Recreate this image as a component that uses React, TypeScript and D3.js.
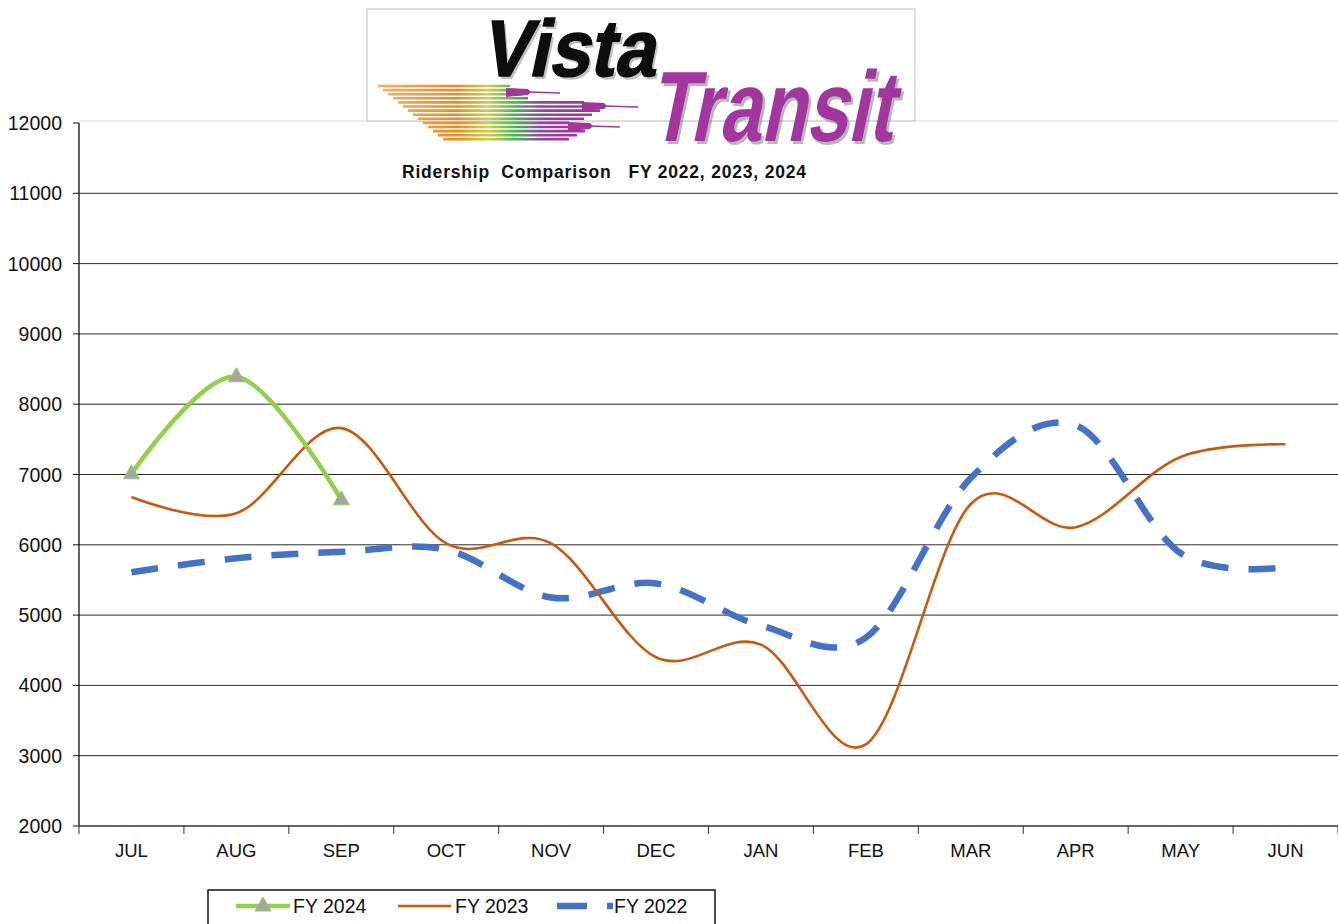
import React from 'react';
import * as d3 from 'd3';

const months = ['JUL', 'AUG', 'SEP', 'OCT', 'NOV', 'DEC', 'JAN', 'FEB', 'MAR', 'APR', 'MAY', 'JUN'];
const fy2024 = [7010, 8390, 6640];
const fy2023 = [6680, 6450, 7660, 6020, 6020, 4400, 4580, 3160, 6580, 6250, 7250, 7430];
const fy2022 = [5610, 5810, 5900, 5930, 5250, 5450, 4850, 4680, 6950, 7700, 5880, 5680];
const yTicks = [2000, 3000, 4000, 5000, 6000, 7000, 8000, 9000, 10000, 11000, 12000];

const W = 1338;
const H = 924;
const left = 79, right = 1338, top = 123, bottom = 826;
const font = 'Arial, "Liberation Sans", sans-serif';

const App: React.FC = () => {
  const x = d3.scaleBand<string>().domain(months).range([left, right]).paddingInner(0).paddingOuter(0);
  const cx = (i: number) => (x(months[i]) || 0) + x.bandwidth() / 2;
  const y = d3.scaleLinear().domain([2000, 12000]).range([bottom, top]);

  const line = d3.line<number>()
    .x((d, i) => cx(i))
    .y(d => y(d))
    .curve(d3.curveCardinal.tension(0));

  // speed stripes of the logo
  const stripes = d3.range(14).map(i => {
    const sy = 86 + i * 4.1;
    const x0 = 378 + i * 5;
    const x1 = i < 4 ? 528 - (3 - i) * 6 : i < 9 ? 600 - Math.abs(i - 6) * 8 : 585 - Math.abs(i - 11) * 8;
    return { sy, x0, x1 };
  });

  const tri = (px: number, py: number) => `M${px},${py - 9}L${px + 8},${py + 5}L${px - 8},${py + 5}Z`;

  return (
    <div style={{ position: 'absolute', left: 0, top: 0 }}>
      <svg width={W} height={H} style={{ display: 'block', fontFamily: font }}>
        <rect width={W} height={H} fill="#fff" />
        {/* plot top border */}
        <line x1={left} x2={right} y1={121} y2={121} stroke="#d9d9d9" strokeWidth={1.2} />
        {/* grid */}
        {yTicks.slice(1, -1).map(t => (
          <line key={t} x1={left} x2={right} y1={y(t)} y2={y(t)} stroke="#2b2b2b" strokeWidth={1} />
        ))}
        {/* axes */}
        <line x1={left} x2={right} y1={bottom} y2={bottom} stroke="#333" strokeWidth={1.3} />
        <line x1={left} x2={left} y1={top} y2={bottom} stroke="#111" strokeWidth={1.3} />
        {yTicks.map(t => (
          <g key={t}>
            <line x1={left - 6} x2={left} y1={y(t)} y2={y(t)} stroke="#111" strokeWidth={1} />
            <text x={62} y={y(t) + 7} textAnchor="end" fontSize={19.5} fill="#111">{t}</text>
          </g>
        ))}
        {months.map((m, i) => (
          <g key={m}>
            <line x1={(x(m) || 0) + x.bandwidth()} x2={(x(m) || 0) + x.bandwidth()} y1={bottom} y2={bottom + 8} stroke="#333" strokeWidth={1} />
            <text x={cx(i)} y={857} textAnchor="middle" fontSize={18.5} fill="#111">{m}</text>
          </g>
        ))}
        <line x1={left} x2={left} y1={bottom} y2={bottom + 8} stroke="#333" strokeWidth={1} />

        {/* series */}
        <path d={line(fy2022) || ''} fill="none" stroke="#4472C4" strokeWidth={6.5} strokeDasharray="27,20" />
        <path d={line(fy2023) || ''} fill="none" stroke="#C55A11" strokeWidth={2.6} />
        <path d={line(fy2024) || ''} fill="none" stroke="#92D050" strokeWidth={4.6} />
        {fy2024.map((v, i) => (
          <path key={i} d={tri(cx(i), y(v))} fill="#A5A5A5" stroke="#92D050" strokeWidth={1} />
        ))}

        {/* logo */}
        <defs>
          <linearGradient id="stripe" gradientUnits="userSpaceOnUse" x1={378} x2={640} y1={0} y2={0}>
            <stop offset="0" stopColor="#f7b366" />
            <stop offset="0.3" stopColor="#f0891e" />
            <stop offset="0.42" stopColor="#c9d24a" />
            <stop offset="0.52" stopColor="#4cb848" />
            <stop offset="0.62" stopColor="#8a4aa3" />
            <stop offset="0.7" stopColor="#a2379b" />
            <stop offset="1" stopColor="#a2379b" />
          </linearGradient>
        </defs>
        <rect x={367} y={9} width={548} height={112} fill="#fff" stroke="#c8c8c8" strokeWidth={1.2} />
        {stripes.map((s, i) => (
          <line key={i} x1={s.x0} x2={s.x1} y1={s.sy} y2={s.sy} stroke="url(#stripe)" strokeWidth={2.6} />
        ))}
        {[[528, 92, 560], [604, 106, 638], [590, 126, 620]].map(([hx, hy, bx], i) => (
          <g key={i}>
            <path d={`M${hx - 22},${hy - 4}L${hx},${hy - 3}L${hx + 3},${hy}L${hx},${hy + 3}L${hx - 22},${hy + 5}Z`} fill="#a2379b" />
            <line x1={hx} x2={bx} y1={hy} y2={hy + 1} stroke="#a2379b" strokeWidth={1.5} />
          </g>
        ))}
        <g transform="translate(480,76) skewX(-12)">
          <text x={3} y={3} fontSize={80} fontWeight="bold" fill="#9a9a9a" opacity={0.6} textLength={174} lengthAdjust="spacingAndGlyphs">Vista</text>
          <text x={0} y={0} fontSize={80} fontWeight="bold" fill="#0d0d0d" stroke="#0d0d0d" strokeWidth={1.5} textLength={174} lengthAdjust="spacingAndGlyphs">Vista</text>
        </g>
        <g transform="translate(648,141) skewX(-12)">
          <text x={3} y={3} fontSize={100} fontWeight="bold" fill="#8a8a8a" opacity={0.6} textLength={244} lengthAdjust="spacingAndGlyphs">Transit</text>
          <text x={0} y={0} fontSize={100} fontWeight="bold" fill="#a2359e" textLength={244} lengthAdjust="spacingAndGlyphs">Transit</text>
        </g>

        {/* title */}
        <text x={402} y={178} fontSize={17.5} fontWeight="bold" fill="#111" textLength={404} lengthAdjust="spacing" style={{ whiteSpace: 'pre' }}>
          {'Ridership  Comparison   FY 2022, 2023, 2024'}
        </text>

        {/* legend */}
        <rect x={208} y={890} width={507} height={40} fill="#fff" stroke="#111" strokeWidth={1.5} />
        <line x1={236} x2={290} y1={906} y2={906} stroke="#92D050" strokeWidth={4.6} />
        <path d={tri(263, 906)} fill="#A5A5A5" stroke="#92D050" strokeWidth={1} />
        <text x={293} y={913} fontSize={19.5} fill="#111">FY 2024</text>
        <line x1={398} x2={451} y1={906} y2={906} stroke="#C55A11" strokeWidth={2.6} />
        <text x={455} y={913} fontSize={19.5} fill="#111">FY 2023</text>
        <line x1={557} x2={613} y1={906} y2={906} stroke="#4472C4" strokeWidth={6.5} strokeDasharray="30,20" />
        <text x={614} y={913} fontSize={19.5} fill="#111">FY 2022</text>
      </svg>
    </div>
  );
};

export default App;
